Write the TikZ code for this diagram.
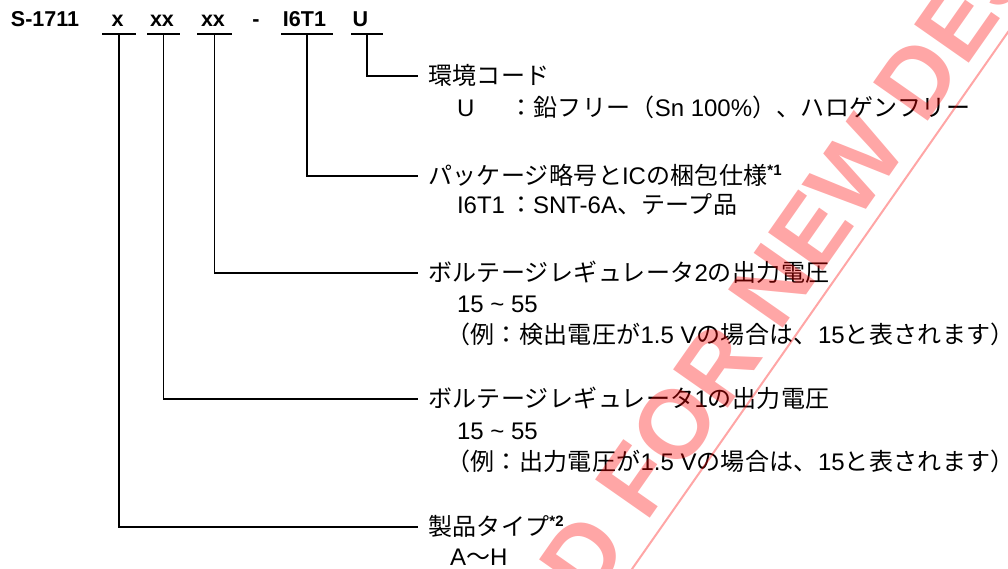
\documentclass[tikz,border=0pt]{standalone}
\usepackage{fontspec}
\setmainfont{Liberation Sans}
\newfontfamily\jpfont{Noto Sans CJK JP}[LetterSpace=1.5]
\newcommand\J[1]{{\fontsize{24}{28}\selectfont\jpfont #1}}
\newcommand\fn[1]{\raisebox{9pt}{\fontsize{15}{15}\selectfont\bfseries #1}}
\begin{document}
\begin{tikzpicture}[x=1pt,y=-1pt,
  code/.style={font=\fontsize{21.5}{24}\selectfont\bfseries, anchor=base, inner sep=0pt},
  uline/.style={line width=1.6pt},
  conn/.style={line width=1.6pt},
  lab/.style={anchor=west, inner sep=0pt, outer sep=0pt, text height=19pt, text depth=2pt, font=\fontsize{24}{28}\selectfont},
  wm/.style={font=\fontsize{97}{100}\selectfont\bfseries, text=red, text opacity=0.35, inner sep=0pt, rotate=55},
  wmline/.style={draw=red, draw opacity=0.35, line width=2pt}]
\useasboundingbox (0,0) rectangle (1008,569);
% product code
\node[code] (c0) at (45,27) {S-1711};
\node[code] (c1) at (117.5,27) {x};
\node[code] (c2) at (162,27) {xx};
\node[code] (c3) at (213,27) {xx};
\node[code] (c4) at (256,27) {-};
\node[code] (c5) at (304.5,27) {I6T1};
\node[code] (c6) at (360.5,27) {U};
% underlines
\coordinate (u1) at (119,34);
\coordinate (u2) at (163.5,34);
\coordinate (u3) at (214.5,34);
\coordinate (u5) at (307,34);
\coordinate (u6) at (367,34);
\draw[uline] (102,34) -- (136,34);
\draw[uline] (147,34) -- (180,34);
\draw[uline] (197,34) -- (232,34);
\draw[uline] (281,34) -- (333,34);
\draw[uline] (351,34) -- (383,34);
% labels
\node[lab] (L6) at (428,76) {\J{環境コード}};
\node[lab] (L6a) at (457,108) {U};
\node[lab] (L6b) at (509,108) {\J{：鉛フリー（}Sn 100\%\J{）、ハロゲンフリー}};
\node[lab] (L5) at (428,176) {\J{パッケージ略号と}IC\J{の梱包仕様}\fn{*1}};
\node[lab] (L5a) at (457,205) {I6T1};
\node[lab] (L5b) at (509,205) {\J{：}SNT-6A\J{、テープ品}};
\node[lab] (L3) at (428,273) {\J{ボルテージレギュレータ}2\J{の出力電圧}};
\node[lab] (L3a) at (457,304) {15 \char`\~{} 55};
\node[lab] (L3b) at (446,335) {\J{（例：検出電圧が}1.5 V\J{の場合は、}15\J{と表されます）}};
\node[lab] (L2) at (428,399) {\J{ボルテージレギュレータ}1\J{の出力電圧}};
\node[lab] (L2a) at (457,431) {15 \char`\~{} 55};
\node[lab] (L2b) at (446,462) {\J{（例：出力電圧が}1.5 V\J{の場合は、}15\J{と表されます）}};
\node[lab] (L1) at (428,527) {\J{製品タイプ}\fn{*2}};
\node[lab] (L1a) at (450,557) {A\J{～}H};
% connectors
\draw[conn] (u6) |- ([xshift=-10pt]L6.west);
\draw[conn] (u5) |- ([xshift=-10pt]L5.west);
\draw[conn] (u3) |- ([xshift=-10pt]L3.west);
\draw[conn] (u2) |- ([xshift=-10pt]L2.west);
\draw[conn] (u1) |- ([xshift=-10pt]L1.west);
% watermark
\begin{scope}
\clip (0,0) rectangle (1008,569);
\coordinate (wp) at (646.7,523.7);
\coordinate (wq) at (631.2,545.8);
\node[wm, anchor=base west] (wmA) at (wp) {FOR NEW DESIGN};
\node[wm, anchor=base east] (wmB) at (wq) {NOT RECOMMENDED};
\coordinate (wl1) at (614.8,593.6);
\coordinate (wl2) at (1045,-20.8);
\draw[wmline] (wl1) -- (wl2);
\end{scope}
\end{tikzpicture}
\end{document}
